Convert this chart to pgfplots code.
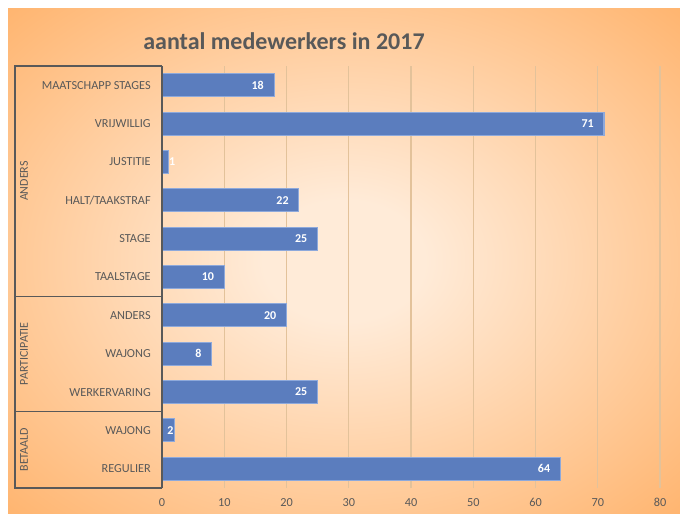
\documentclass[border=0pt]{standalone}
\usepackage{pgfplots}
\pgfplotsset{compat=1.18}
\usepackage{fontspec}
\setmainfont{Carlito}
\definecolor{txtgray}{HTML}{595959}
\definecolor{barblue}{HTML}{5B7DBE}
\definecolor{baredge}{HTML}{8EA9DB}
\definecolor{gridtan}{HTML}{E3C29A}
\definecolor{bgin}{HTML}{FFEBD8}
\definecolor{bgout}{HTML}{FFB46E}
\pgfdeclareradialshading{peach}{\pgfpoint{0bp}{0bp}}{%
  color(0bp)=(bgin); color(6bp)=(bgin); color(36bp)=(bgout); color(50bp)=(bgout)}
\begin{document}
\begin{tikzpicture}[x=1pt,y=1pt]
  % background: white margin, orange gradient panel
  \fill[white] (0,0) rectangle (510,384.75);
  \shade[shading=peach] (6,0) rectangle (510,378);
  \node[font=\fontsize{18}{20}\selectfont\bfseries, text=txtgray] at (213,354) {aantal medewerkers in 2017};
  \begin{axis}[
      at={(121.5pt,18.75pt)}, anchor=south west,
      scale only axis,
      width=373.5pt, height=316.5pt,
      xbar, bar width=17.25pt, bar shift=0pt,
      xmin=0, xmax=80,
      ymin=-0.5, ymax=10.5,
      xtick={0,10,...,80},
      ytick={0,...,10},
      yticklabels={REGULIER,WAJONG,WERKERVARING,WAJONG,ANDERS,TAALSTAGE,STAGE,HALT/TAAKSTRAF,JUSTITIE,VRIJWILLIG,MAATSCHAPP STAGES},
      major tick length=0pt,
      axis line style={draw=none},
      xmajorgrids, grid style={gridtan, line width=0.8pt},
      tick label style={font=\fontsize{9.2}{10}\selectfont, text=txtgray},
      /pgf/number format/assume math mode=true,
      xticklabel style={yshift=-4pt},
      yticklabel style={anchor=east, inner sep=0pt, xshift=-8.25pt},
      nodes near coords,
      clip=false,
    ]
    \addplot[fill=barblue, draw=baredge, line width=0.8pt,
      every node near coord/.style={font=\fontsize{9}{10}\selectfont\bfseries, text=white, anchor=east, xshift=-4pt}]
      coordinates {
      (64,0) (25,2) (8,3) (20,4) (10,5) (25,6) (22,7) (71,9) (18,10)
    };
    \addplot[fill=barblue, draw=baredge, line width=0.8pt,
      every node near coord/.style={font=\fontsize{9}{10}\selectfont\bfseries, text=white, anchor=center, xshift=-3pt}]
      coordinates {
      (2,1)
    };
    \addplot[fill=barblue, draw=baredge, line width=0.8pt,
      every node near coord/.style={font=\fontsize{9}{10}\selectfont\bfseries, text=white, anchor=center, xshift=3pt}]
      coordinates {
      (1,8)
    };
  \end{axis}
  % group box to the left of the axis
  \draw[txtgray, line width=1.1pt] (121.5,18.75) -- (121.5,335.25);
  \draw[txtgray, line width=1pt] (121.5,18.75) -- (11.25,18.75) -- (11.25,335.25) -- (121.5,335.25);
  \draw[txtgray, line width=1pt] (11.25,76.30) -- (121.5,76.30);
  \draw[txtgray, line width=1pt] (11.25,162.61) -- (121.5,162.61);
  \node[rotate=90, font=\fontsize{9}{10}\selectfont, text=txtgray] at (18,248.93) {ANDERS};
  \node[rotate=90, font=\fontsize{9}{10}\selectfont, text=txtgray] at (18,119.45) {PARTICIPATIE};
  \node[rotate=90, font=\fontsize{9}{10}\selectfont, text=txtgray] at (18,47.52) {BETAALD};
  \pgfresetboundingbox
  \useasboundingbox (0,0) rectangle (510,384.75);
\end{tikzpicture}
\end{document}
